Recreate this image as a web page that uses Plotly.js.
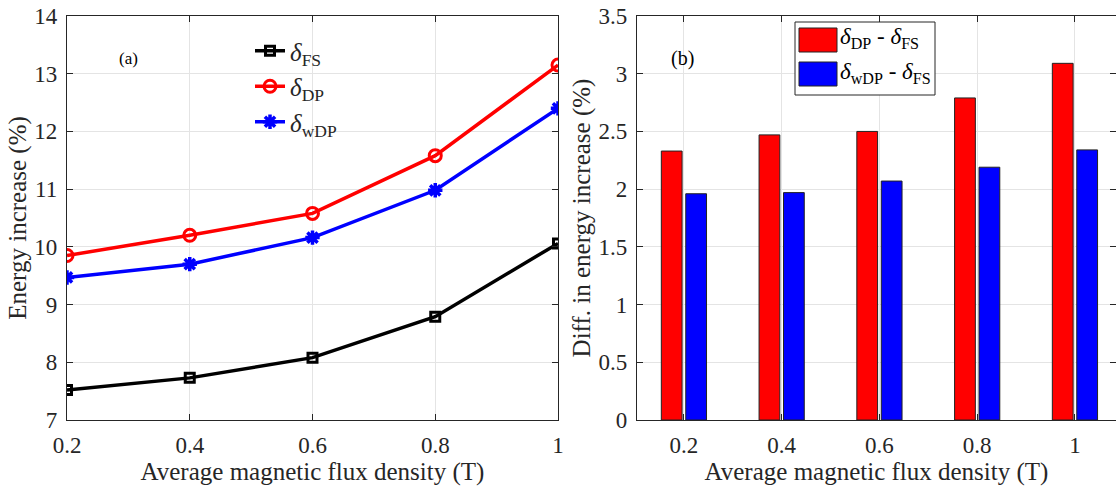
<!DOCTYPE html>
<html>
<head>
<meta charset="utf-8">
<script src="https://cdn.plot.ly/plotly-3.0.1.min.js"></script>
<style>html,body{margin:0;padding:0;background:#fff;}#chart{width:1116px;height:489px;}</style>
</head>
<body>
<div id="chart"></div>
<script>
const fluxDensity = [0.2, 0.4, 0.6, 0.8, 1.0];
const deltaFS  = [7.52, 7.73, 8.08, 8.79, 10.06];
const deltaDP  = [9.85, 10.20, 10.58, 11.58, 13.15];
const deltaWDP = [9.47, 9.70, 10.16, 10.98, 12.40];
const diffDP  = [2.33, 2.47, 2.50, 2.79, 3.09];
const diffWDP = [1.96, 1.97, 2.07, 2.19, 2.34];
const tickLabels = ['0.2','0.4','0.6','0.8','1'];

const F = 'Liberation Serif';

const traces = [
  {x: fluxDensity, y: deltaFS, type:'scatter', mode:'lines+markers', name:'<i>δ</i><sub>FS</sub>',
   line:{color:'#000', width:3.5}, marker:{symbol:'square-open', size:9, color:'#000', line:{width:3, color:'#000'}},
   xaxis:'x', yaxis:'y'},
  {x: fluxDensity, y: deltaDP, type:'scatter', mode:'lines+markers', name:'<i>δ</i><sub>DP</sub>',
   line:{color:'#ff0000', width:3.5}, marker:{symbol:'circle-open', size:12, color:'#ff0000', line:{width:3, color:'#ff0000'}},
   xaxis:'x', yaxis:'y'},
  {x: fluxDensity, y: deltaWDP, type:'scatter', mode:'lines+markers', name:'<i>δ</i><sub>wDP</sub>',
   line:{color:'#0000ff', width:3.5}, marker:{symbol:'asterisk-open', size:12, color:'#0000ff', line:{width:3.5, color:'#0000ff'}},
   xaxis:'x', yaxis:'y'},
  {x: fluxDensity, y: diffDP, type:'bar', name:'DP-FS', showlegend:false,
   marker:{color:'#ff0000', line:{color:'#222', width:1}}, xaxis:'x2', yaxis:'y2'},
  {x: fluxDensity, y: diffWDP, type:'bar', name:'wDP-FS', showlegend:false,
   marker:{color:'#0000ff', line:{color:'#222', width:1}}, xaxis:'x2', yaxis:'y2'}
];

const axBase = {showline:true, linecolor:'#262626', linewidth:1.2, mirror:'ticks', ticks:'inside', ticklen:6,
  tickcolor:'#262626', showgrid:true, gridcolor:'#e4e4e4', gridwidth:1, zeroline:false,
  tickfont:{family:F, size:23, color:'#262626'}};
const titleFont = {family:F, size:25, color:'#262626'};

const yTop = 1 - 16/489, yBot = 1 - 420/489;

const layout = {
  width:1116, height:489, margin:{l:0, r:0, t:0, b:0}, paper_bgcolor:'#fff', plot_bgcolor:'#fff',
  font:{family:F, color:'#262626'},
  barmode:'group', bargap:0.5, bargroupgap:0.15,
  xaxis: Object.assign({}, axBase, {domain:[67/1116, 558/1116], range:[0.2, 1.0], tickvals:fluxDensity, ticktext:tickLabels,
    ticklabelstandoff:4, title:{text:'Average magnetic flux density (T)', font:titleFont, standoff:3}, anchor:'y'}),
  yaxis: Object.assign({}, axBase, {domain:[yBot, yTop], range:[7, 14], dtick:1, ticklabelstandoff:4,
    title:{text:'Energy increase (%)', font:titleFont, standoff:0}, anchor:'x'}),
  xaxis2: Object.assign({}, axBase, {domain:[637/1116, 1], range:[0.104, 1.084], tickvals:fluxDensity, ticktext:tickLabels,
    ticklabelstandoff:4, title:{text:'Average magnetic flux density (T)', font:titleFont, standoff:3}, anchor:'y2'}),
  yaxis2: Object.assign({}, axBase, {domain:[yBot, yTop], range:[0, 3.5], dtick:0.5, ticklabelstandoff:4,
    title:{text:'Diff. in energy increase (%)', font:titleFont, standoff:0}, anchor:'x2'}),
  legend:{x:250/1116, y:1-28/489, xanchor:'left', yanchor:'top', bgcolor:'rgba(255,255,255,0)', borderwidth:0,
    font:{family:F, size:25, color:'#262626'}, itemwidth:30},
  annotations:[
    {xref:'paper', yref:'paper', x:117/1116, y:1-47/489, text:'(a)', showarrow:false, font:{family:F, size:17, color:'#000'}},
    {xref:'paper', yref:'paper', x:682/1116, y:1-45/489, text:'(b)', showarrow:false, font:{family:F, size:20, color:'#000'}},
    {xref:'paper', yref:'paper', x:838/1116, y:1-22/489, xanchor:'left', yanchor:'top', text:'<i>δ</i><sub>DP</sub> - <i>δ</i><sub>FS</sub>', showarrow:false, font:{family:F, size:23, color:'#000'}},
    {xref:'paper', yref:'paper', x:838/1116, y:1-57/489, xanchor:'left', yanchor:'top', text:'<i>δ</i><sub>wDP</sub> - <i>δ</i><sub>FS</sub>', showarrow:false, font:{family:F, size:23, color:'#000'}}
  ],
  shapes:[
    {type:'rect', xref:'paper', yref:'paper', x0:795/1116, x1:935/1116, y0:1-95/489, y1:1-22/489, line:{color:'#262626', width:1}, fillcolor:'#fff', layer:'above'},
    {type:'rect', xref:'paper', yref:'paper', x0:799/1116, x1:837/1116, y0:1-52/489, y1:1-28/489, line:{color:'#222', width:1}, fillcolor:'#ff0000', layer:'above'},
    {type:'rect', xref:'paper', yref:'paper', x0:799/1116, x1:837/1116, y0:1-86/489, y1:1-62/489, line:{color:'#222', width:1}, fillcolor:'#0000ff', layer:'above'}
  ]
};

Plotly.newPlot('chart', traces, layout, {displayModeBar:false, staticPlot:true});
</script>
</body>
</html>
